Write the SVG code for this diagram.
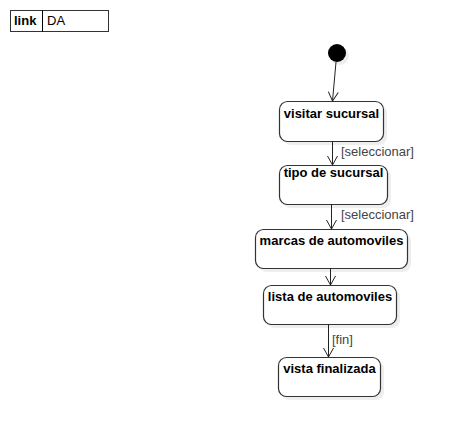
<svg xmlns="http://www.w3.org/2000/svg" width="453" height="437" viewBox="0 0 453 437">
<defs>
<style>
.node rect.b{fill:#fff;stroke:#333;stroke-width:1.2}
.node rect.s{fill:#eee;stroke:none}
.t{font-family:"Liberation Sans",Arial,sans-serif;font-size:13px;font-weight:bold;fill:#000;text-anchor:middle}
.l{font-family:"Liberation Sans",Arial,sans-serif;font-size:13px;fill:#444}
.c{stroke:#222;stroke-width:1;fill:none}
</style>
<marker id="a" markerWidth="12" markerHeight="12" refX="10" refY="6" orient="auto" markerUnits="userSpaceOnUse">
<path d="M1,1 L10,6 L1,11" fill="none" stroke="#222" stroke-width="1"/>
</marker>
</defs>
<rect width="453" height="437" fill="#fff"/>
<g id="link">
<rect x="10.5" y="10.5" width="98" height="21" fill="#fff" stroke="#333"/>
<line x1="42.5" y1="10.5" x2="42.5" y2="31.5" stroke="#000"/>
<text x="14" y="25" font-family="Liberation Sans,Arial,sans-serif" font-size="13" font-weight="bold">link</text>
<text x="47" y="25" font-family="Liberation Sans,Arial,sans-serif" font-size="13">DA</text>
</g>
<g id="start">
<circle cx="340" cy="56" r="9" fill="#eee"/>
<circle cx="337" cy="53" r="9" fill="#000"/>
</g>
<g id="n1" class="node">
<rect class="s" x="283" y="105" width="104" height="40" rx="8"/>
<rect class="b" x="279.5" y="101.5" width="104" height="40" rx="8"/>
<text class="t" x="331.5" y="118">visitar sucursal</text>
</g>
<g id="n2" class="node">
<rect class="s" x="283" y="169" width="108" height="39" rx="8"/>
<rect class="b" x="279.5" y="165.5" width="108" height="39" rx="8"/>
<text class="t" x="333.5" y="177">tipo de sucursal</text>
</g>
<g id="n3" class="node">
<rect class="s" x="259" y="233" width="152" height="39" rx="8"/>
<rect class="b" x="255.5" y="229.5" width="152" height="39" rx="8"/>
<text class="t" x="331.5" y="245">marcas de automoviles</text>
</g>
<g id="n4" class="node">
<rect class="s" x="267" y="289" width="133" height="39" rx="8"/>
<rect class="b" x="263.5" y="285.5" width="133" height="39" rx="8"/>
<text class="t" x="330" y="301">lista de automoviles</text>
</g>
<g id="n5" class="node">
<rect class="s" x="282" y="361" width="102" height="39" rx="8"/>
<rect class="b" x="278.5" y="357.5" width="102" height="39" rx="8"/>
<text class="t" x="329.5" y="373">vista finalizada</text>
</g>
<g id="connectors">
<line class="c" x1="336" y1="62" x2="332.5" y2="101" marker-end="url(#a)"/>
<line class="c" x1="332.5" y1="141.5" x2="332.5" y2="165" marker-end="url(#a)"/>
<text class="l" x="341" y="156">[seleccionar]</text>
<line class="c" x1="331.5" y1="204.5" x2="331.5" y2="229" marker-end="url(#a)"/>
<text class="l" x="341" y="219">[seleccionar]</text>
<line class="c" x1="330.5" y1="268.5" x2="330.5" y2="285" marker-end="url(#a)"/>
<line class="c" x1="328.5" y1="324.5" x2="328.5" y2="357" marker-end="url(#a)"/>
<text class="l" x="332" y="344">[fin]</text>
</g>
</svg>
